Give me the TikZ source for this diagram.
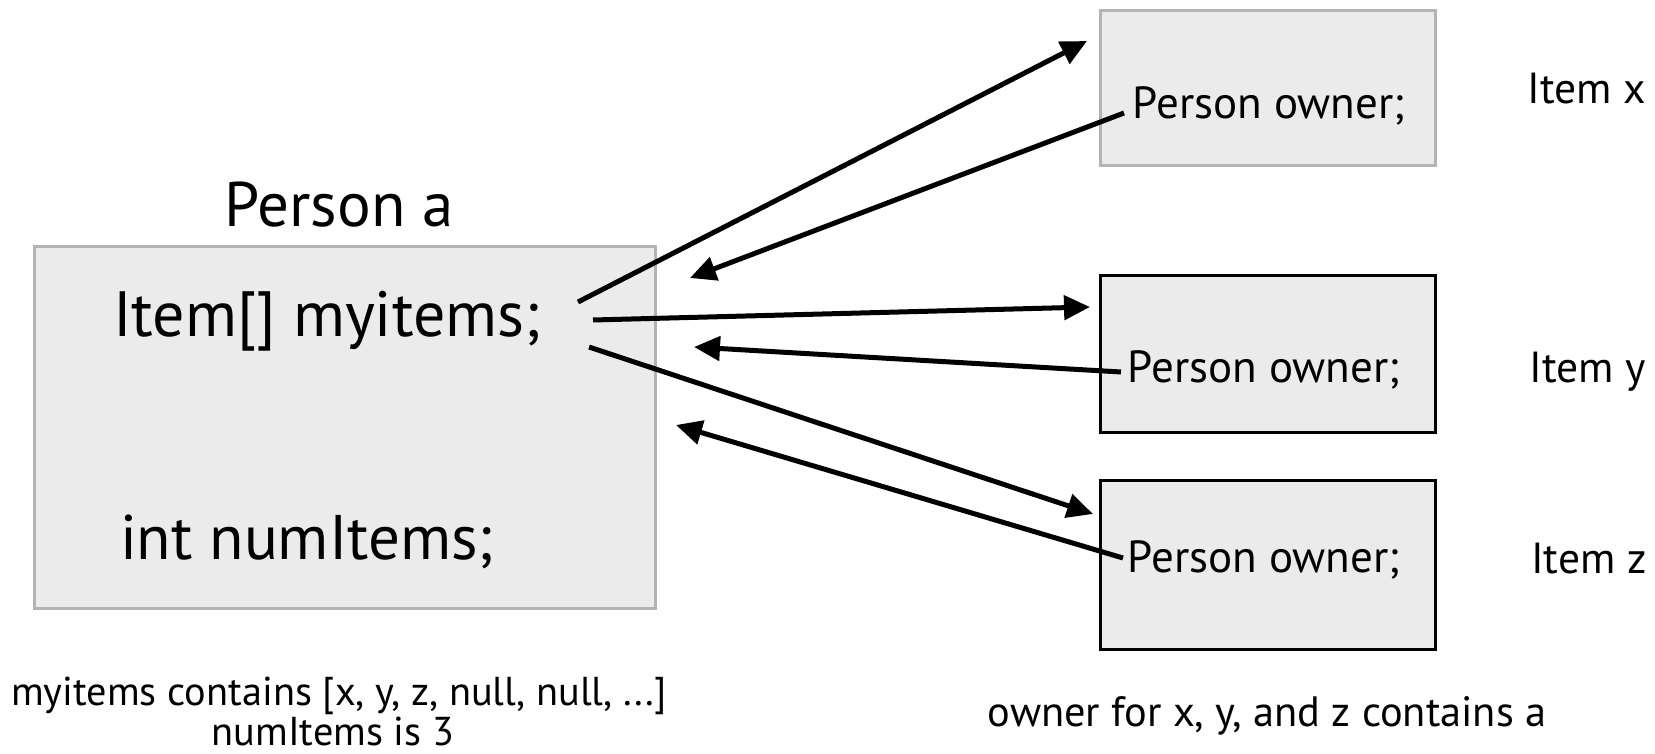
\documentclass[tikz,border=0pt]{standalone}
\usepackage{fontspec}
\setmainfont{PT Sans}
\usetikzlibrary{arrows.meta}
\definecolor{boxfill}{HTML}{EBEBEB}
\definecolor{boxgray}{HTML}{B3B3B3}
\begin{document}
\begin{tikzpicture}[x=1pt,y=-1pt,
  objbox/.style={rectangle, fill=boxfill, line width=3pt, inner sep=0pt},
  graybox/.style={objbox, draw=boxgray},
  blackbox/.style={objbox, draw=black},
  label/.style={inner sep=0pt, anchor=base},
  ptr/.style={line width=5pt, -{Triangle[length=26pt,width=24pt]}},
]
\useasboundingbox (0,0) rectangle (1655,754);

% the Person object
\node[graybox, minimum width=621pt, minimum height=361pt] (person) at (344.5,427.5) {};
\node[label, font=\fontsize{63}{72}\selectfont] (ptitle) at (339,227) {Person a};
\node[label, font=\fontsize{64}{72}\selectfont] (arr) at (327,336) {Item[] myitems;};
\node[label, font=\fontsize{63}{72}\selectfont] (num) at (307,559) {int numItems;};

% the three Item objects
\node[graybox, minimum width=335pt, minimum height=155pt] (bx) at (1267.5,88.5) {};
\node[blackbox, minimum width=335pt, minimum height=157pt] (by) at (1267.5,353.5) {};
\node[blackbox, minimum width=335pt, minimum height=169pt] (bz) at (1267.5,564.5) {};

\node[label, font=\fontsize{45}{50}\selectfont] (ox) at (1269,119) {Person owner;};
\node[label, font=\fontsize{45}{50}\selectfont] (oy) at (1264,382) {Person owner;};
\node[label, font=\fontsize{45}{50}\selectfont] (oz) at (1264,572) {Person owner;};

\node[label, font=\fontsize{43.5}{50}\selectfont] (ix) at (1587,104) {Item x};
\node[label, font=\fontsize{43.5}{50}\selectfont] (iy) at (1588,382) {Item y};
\node[label, font=\fontsize{43.5}{50}\selectfont] (iz) at (1589,573) {Item z};

% captions
\node[label, font=\fontsize{40.3}{50}\selectfont] (cap1) at (339,705) {myitems contains [x, y, z, null, null, ...]};
\node[label, font=\fontsize{40.3}{50}\selectfont] (cap2) at (333,745) {numItems is 3};
\node[label, font=\fontsize{42.4}{50}\selectfont] (cap3) at (1267,726) {owner for x, y, and z contains a};

% reference end points
\coordinate (a1) at (578,302);  \coordinate (x1) at (1087,41);
\coordinate (x2) at (1124,113); \coordinate (a2) at (690,278);
\coordinate (a3) at (593,320);  \coordinate (y1) at (1090,307);
\coordinate (y2) at (1121,372); \coordinate (a4) at (694,347);
\coordinate (a5) at (589,347);  \coordinate (z1) at (1093,514);
\coordinate (z2) at (1123,558); \coordinate (a6) at (676,425);

\draw[ptr] (a1) -- (x1);
\draw[ptr] (x2) -- (a2);
\draw[ptr] (a3) -- (y1);
\draw[ptr] (y2) -- (a4);
\draw[ptr] (a5) -- (z1);
\draw[ptr] (z2) -- (a6);
\end{tikzpicture}
\end{document}
